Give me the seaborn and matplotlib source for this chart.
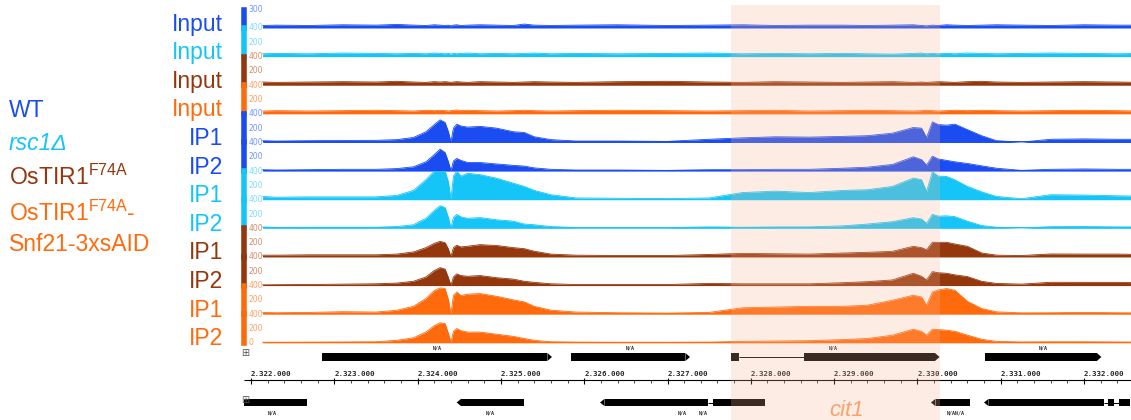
import numpy as np
import pandas as pd
import matplotlib
matplotlib.use('Agg')
import matplotlib.pyplot as plt
import matplotlib.transforms as mtransforms
import seaborn as sns

# ---------------- data ----------------
# positions in kb from 2,322,000 (shared by all tracks)
pos_kb = [0.14, 0.3, 0.7, 1.1, 1.5, 1.75, 1.95, 2.1, 2.2, 2.27, 2.33, 2.37, 2.40, 2.43, 2.47, 2.52,
          2.6, 2.75, 2.95, 3.15, 3.28, 3.4, 3.6, 3.9, 4.4, 5.0, 5.5, 5.9, 6.3, 6.7, 7.1, 7.4,
          7.7, 7.95, 8.05, 8.11, 8.18, 8.25, 8.35, 8.45, 8.6, 8.77, 8.95, 9.25, 9.6, 10.0, 10.4, 10.66]

wt_input = [35, 40, 35, 45, 40, 50, 40, 35, 45, 40, 35, 40, 30, 40, 45, 35,
            40, 45, 40, 35, 55, 40, 35, 40, 45, 35, 40, 45, 35, 40, 40, 35,
            40, 45, 35, 30, 40, 35, 45, 40, 35, 40, 45, 40, 35, 45, 40, 40]
rsc_input = [40, 45, 40, 50, 45, 40, 45, 40, 50, 45, 40, 45, 35, 45, 40, 45,
             50, 40, 45, 40, 45, 50, 40, 45, 40, 45, 50, 40, 45, 40, 45, 40,
             35, 45, 50, 40, 45, 40, 45, 40, 50, 45, 40, 45, 50, 45, 40, 45]
tir_input = [45, 40, 45, 50, 45, 55, 45, 40, 50, 45, 50, 45, 40, 45, 50, 45,
             40, 50, 45, 40, 45, 50, 45, 40, 50, 55, 45, 40, 50, 45, 40, 45,
             50, 40, 45, 40, 45, 50, 45, 40, 50, 55, 45, 40, 45, 50, 45, 40]
aid_input = [40, 45, 40, 45, 50, 45, 40, 50, 45, 50, 45, 40, 45, 50, 55, 45,
             50, 45, 40, 45, 50, 45, 40, 45, 50, 45, 40, 45, 50, 40, 45, 50,
             45, 40, 45, 50, 45, 40, 45, 50, 45, 50, 45, 40, 45, 50, 45, 40]

wt_ip1 = [25, 20, 25, 28, 30, 40, 70, 150, 250, 316, 280, 150, 5, 200, 256, 230,
          215, 225, 200, 150, 140, 80, 40, 20, 20, 15, 45, 65, 80, 75, 85, 95,
          130, 209, 200, 70, 288, 250, 242, 256, 180, 95, 25, 5, 45, 50, 45, 45]
wt_ip2 = [20, 15, 20, 25, 25, 35, 60, 130, 230, 307, 260, 130, 5, 140, 177, 150,
          120, 120, 100, 80, 70, 45, 25, 15, 15, 10, 20, 20, 25, 25, 40, 55,
          93, 200, 160, 84, 209, 170, 150, 130, 107, 74, 40, 10, 25, 30, 25, 25]
rsc_ip1 = [45, 35, 40, 40, 40, 60, 130, 280, 400, 400, 400, 250, 5, 330, 400, 330,
           370, 350, 300, 230, 186, 130, 70, 25, 20, 15, 25, 100, 120, 100, 130, 140,
           186, 302, 280, 116, 390, 330, 325, 279, 186, 110, 46, 14, 70, 65, 55, 50]
rsc_ip2 = [20, 12, 15, 15, 15, 25, 50, 140, 250, 316, 290, 150, 5, 150, 195, 160,
           140, 150, 120, 100, 60, 50, 25, 10, 10, 10, 20, 15, 20, 20, 35, 60,
           93, 149, 130, 70, 195, 170, 175, 163, 100, 40, 15, 5, 23, 25, 20, 20]
tir_ip1 = [25, 25, 30, 30, 30, 40, 70, 130, 190, 218, 200, 110, 5, 130, 163, 140,
           150, 172, 160, 130, 116, 80, 40, 25, 20, 20, 35, 50, 45, 40, 55, 65,
           79, 149, 130, 102, 205, 205, 205, 181, 149, 56, 25, 20, 42, 40, 40, 35]
tir_ip2 = [10, 12, 15, 20, 25, 35, 60, 120, 210, 251, 230, 110, 5, 120, 163, 140,
           130, 140, 110, 90, 60, 45, 25, 15, 15, 15, 30, 25, 25, 25, 40, 55,
           79, 172, 130, 80, 195, 180, 172, 150, 126, 60, 30, 20, 46, 45, 45, 40]
aid_ip1 = [25, 20, 25, 35, 30, 55, 110, 220, 330, 367, 360, 200, 5, 260, 311, 260,
           280, 288, 250, 200, 172, 110, 56, 30, 20, 15, 25, 90, 100, 110, 110, 126,
           195, 265, 240, 126, 311, 340, 358, 335, 180, 80, 33, 18, 20, 25, 20, 18]
aid_ip2 = [8, 8, 10, 12, 15, 35, 70, 150, 240, 279, 270, 130, 5, 160, 200, 170,
           150, 150, 120, 90, 60, 35, 15, 10, 8, 8, 10, 20, 25, 30, 45, 60,
           107, 190, 160, 107, 190, 185, 177, 160, 107, 50, 20, 12, 15, 15, 12, 10]

track_labels = ['Input', 'Input', 'Input', 'Input', 'IP1', 'IP2', 'IP1', 'IP2', 'IP1', 'IP2', 'IP1', 'IP2']
track_values = [wt_input, rsc_input, tir_input, aid_input,
                wt_ip1, wt_ip2, rsc_ip1, rsc_ip2, tir_ip1, tir_ip2, aid_ip1, aid_ip2]
track_strain = [0, 1, 2, 3, 0, 0, 1, 1, 2, 2, 3, 3]

strain_names = ['WT', 'rsc1Δ', 'OsTIR1$^{\\mathregular{F74A}}$', 'OsTIR1$^{\\mathregular{F74A}}$-', 'Snf21-3xsAID']

# genes (genomic coordinates), row 0 = top gene track, row 1 = bottom gene track
gene_row = [0, 0, 0, 0, 1, 1, 1, 1, 1]
gene_strand = ['+', '+', '+', '+', '.', '-', '-', '-', '-']
gene_exons = [[(2322852, 2325613)],
              [(2325842, 2327270)],
              [(2327762, 2327858), (2328639, 2330266)],
              [(2330812, 2332209)],
              [(2321500, 2322669)],
              [(2324469, 2325281)],
              [(2326190, 2327486), (2327546, 2328170)],
              [(2330163, 2330631)],
              [(2330800, 2332240), (2332288, 2332360), (2332420, 2332552)]]
gene_label_pos = [2324233, 2326550, 2328987, 2331508, 2322252, 2324869, 2327174, 2327426, 2330463]
gene_label_row = [0, 0, 0, 0, 1, 1, 1, 1, 1]
gene_label_txt = ['N/A', 'N/A', 'N/A', 'N/A', 'N/A', 'N/A', 'N/A', 'N/A', 'N/AN/A']

highlight = (2327762, 2330271)
ruler_ticks = list(range(2322000, 2333000, 1000))

# ---------------- style ----------------
sns.set_style('white')
plt.rcParams['font.family'] = ['Liberation Sans', 'DejaVu Sans']
plt.rcParams['mathtext.fontset'] = 'custom'
plt.rcParams['mathtext.rm'] = 'Liberation Sans'

colors = ['#1a4cf2', '#16c5f7', '#95370c', '#ff6a0c']
light = ['#6f96ff', '#7fdcfb', '#cf8d68', '#ffa066']

W, H = 1131, 420
fig = plt.figure(figsize=(W / 100, H / 100), dpi=100)


def rect(x0, y0, x1, y1):
    return [x0 / W, 1 - y1 / H, (x1 - x0) / W, (y1 - y0) / H]


px_per_kb = 83.3
view = (2322000 + (243.5 - 251) / px_per_kb * 1000, 2322000 + (W - 251) / px_per_kb * 1000)
x_bp = 2322000 + np.array(pos_kb) * 1000

# ---------------- coverage tracks ----------------
step = 28.62
for i, (lab, vals, s) in enumerate(zip(track_labels, track_values, track_strain)):
    yb = 28 + step * i
    yt = yb - step if i > 0 else 10
    ax = fig.add_axes(rect(243.5, yt, W, yb))
    ymax = 400 * (yb - yt) / step
    c = colors[s]
    df = pd.DataFrame({'pos': x_bp, 'cov': vals})
    ax.fill_between(df['pos'], df['cov'], color=c, lw=0)
    sns.lineplot(data=df, x='pos', y='cov', ax=ax, color=c, lw=0.6)
    ax.hlines(0, x_bp[0], view[1], color=c, lw=1.4)
    ax.set_xlim(*view)
    ax.set_ylim(0, ymax)
    ax.set_xlabel('')
    ax.set_ylabel('')
    ax.set_xticks([])
    ax.set_yticks([v for v in (100, 200, 300) if v < ymax])
    ax.tick_params(axis='y', direction='in', length=4, width=0.6, color=light[s], labelleft=False)
    for sp in ('top', 'right', 'bottom'):
        ax.spines[sp].set_visible(False)
    ax.spines['left'].set_color(c)
    ax.spines['left'].set_linewidth(4)
    ax.patch.set_alpha(0)
    tr = mtransforms.blended_transform_factory(ax.transAxes, ax.transData)
    if i == 0:
        scale = [(ymax, '300')]
    else:
        scale = [(400, '400'), (200, '200')]
    if i == len(track_labels) - 1:
        scale.append((0, '0'))
    for v, t in scale:
        ax.text(0.0055, v, t, transform=tr, fontsize=5.5, color=light[s],
                ha='left', va='center', clip_on=False, family='DejaVu Sans', zorder=5)
    ax.text((223 - 243.5) / 887.5, -2.5 / step * 400, lab, transform=tr, fontsize=16.5,
            color=c, ha='right', va='baseline', clip_on=False)

# ---------------- gene tracks + ruler ----------------
ga = fig.add_axes(rect(243.5, 344, W, H))
ga.set_xlim(*view)
ga.set_ylim(H, 344)
ga.axis('off')
row_y = [357, 402.5]
row_h = [8, 7.5]
tip = 55
for r, strand, exons in zip(gene_row, gene_strand, gene_exons):
    y = row_y[r]
    h = row_h[r]
    if len(exons) > 1:
        ga.hlines(y, exons[0][1], exons[-1][0], color='black', lw=0.7)
    for k, (a, b) in enumerate(exons):
        if strand == '+' and k == len(exons) - 1:
            ga.barh(y, b - tip - a, left=a, height=h, color='black', lw=0)
            ga.fill([b - tip, b, b - tip], [y - h / 2, y, y + h / 2], color='black', lw=0)
        elif strand == '-' and k == 0:
            ga.barh(y, b - a - tip, left=a + tip, height=h, color='black', lw=0)
            ga.fill([a + tip, a, a + tip], [y - h / 2, y, y + h / 2], color='black', lw=0)
        else:
            ga.barh(y, b - a, left=a, height=h, color='black', lw=0)
for p, r, t in zip(gene_label_pos, gene_label_row, gene_label_txt):
    ga.text(p, 347.5 if r == 0 else 413, t, fontsize=3.6, family='DejaVu Sans Mono',
            weight='bold', ha='center', va='center')

ga.hlines(380, view[0], view[1], color='black', lw=0.8)
ga.vlines(ruler_ticks, 377.5, 384, color='black', lw=0.8)
ga.vlines([v for v in range(2322000, 2332600, 200) if v % 1000], 380, 382.5, color='black', lw=0.5)
for v in ruler_ticks:
    ga.text(v, 374.5, f'{v:,}'.replace(',', '.'), fontsize=5.4, family='DejaVu Sans Mono',
            weight='bold', ha='left', va='center')

for yy in (352.5, 400):
    fig.text(245 / W, 1 - yy / H, '⊞', fontsize=7, color='#555555', ha='center', va='center',
             family='DejaVu Sans')

# ---------------- highlight ----------------
ov = fig.add_axes(rect(243.5, 5, W, H))
ov.set_xlim(*view)
ov.axvspan(*highlight, color='#f7b391', alpha=0.24, lw=0)
ov.axis('off')
ov.set_zorder(20)

ov.text(2329155, 1 - (410 - 5) / (H - 5), 'cit1', transform=mtransforms.blended_transform_factory(ov.transData, ov.transAxes),
        fontsize=16, style='italic', color='#f7a36b', ha='center', va='center')

# ---------------- left legend ----------------
legend_base = [117, 150, 185, 221, 251]
legend_col = [0, 1, 2, 3, 3]
for name, yb, ci in zip(strain_names, legend_base, legend_col):
    fig.text(9 / W, 1 - yb / H, name, fontsize=16.5, color=colors[ci], va='baseline', ha='left',
             style='italic' if ci == 1 else 'normal')

fig.savefig('out.png', dpi=100)
